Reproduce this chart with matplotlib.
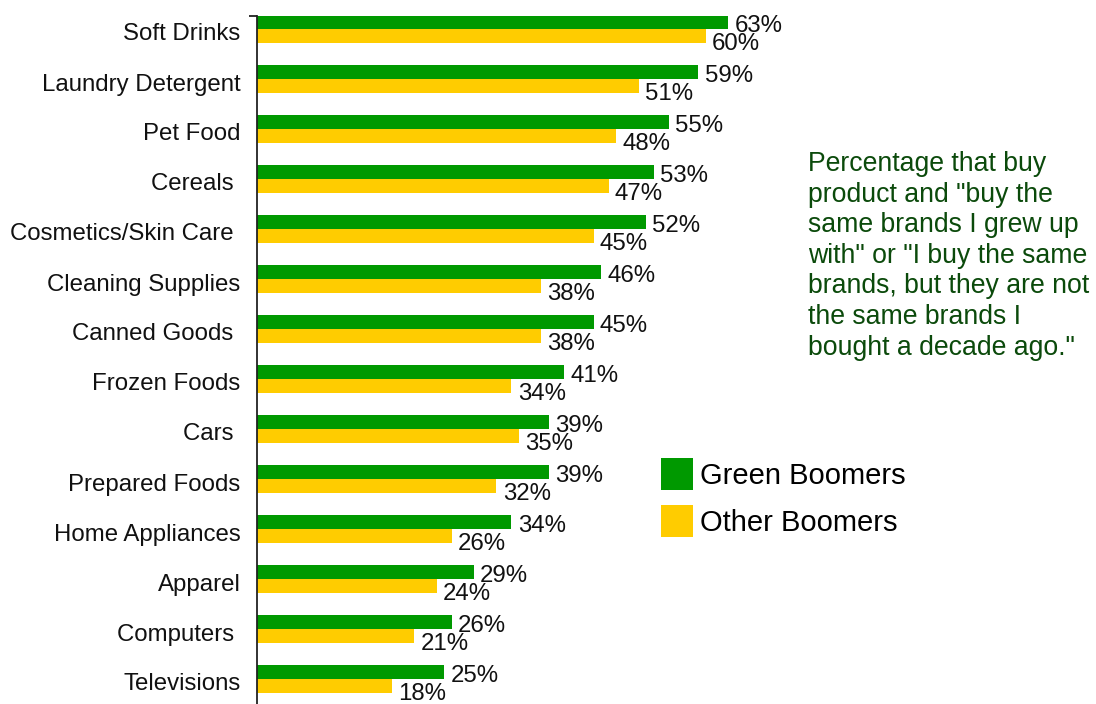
import matplotlib.pyplot as plt
import matplotlib.transforms as mtransforms
from matplotlib.patches import Patch
import numpy as np

plt.rcParams['font.family'] = ['Liberation Sans', 'DejaVu Sans']

categories = ['Soft Drinks', 'Laundry Detergent', 'Pet Food', 'Cereals ',
              'Cosmetics/Skin Care ', 'Cleaning Supplies', 'Canned Goods ',
              'Frozen Foods', 'Cars ', 'Prepared Foods', 'Home Appliances',
              'Apparel', 'Computers ', 'Televisions']
green_boomers = [63, 59, 55, 53, 52, 46, 45, 41, 39, 39, 34, 29, 26, 25]
other_boomers = [60, 51, 48, 47, 45, 38, 38, 34, 35, 32, 26, 24, 21, 18]
series_names = ['Green Boomers', 'Other Boomers']
note = ('Percentage that buy\nproduct and "buy the\nsame brands I grew up\n'
        'with" or "I buy the same\nbrands, but they are not\n'
        'the same brands I\nbought a decade ago."')

GREEN = '#009900'
YELLOW = '#ffcc00'
W, H = 1096, 704

fig = plt.figure(figsize=(W / 100, H / 100), dpi=100)
ax = fig.add_axes([257 / W, 0, 838 / W, (H - 16) / H])

y = np.arange(len(categories))
bh = 0.28
ax.barh(y - bh / 2, green_boomers, height=bh, color=GREEN)
ax.barh(y + bh / 2, other_boomers, height=bh, color=YELLOW)

# value labels: green just above the group middle, yellow below the yellow bar
for i, (g, o) in enumerate(zip(green_boomers, other_boomers)):
    ax.annotate(f'{g}%', xy=(g, i - 0.07), xytext=(4.5, 0), textcoords='offset points',
                va='center', ha='left', fontsize=17.3, color='#111111')
    ax.annotate(f'{o}%', xy=(o, i + 0.31), xytext=(4.5, 0), textcoords='offset points',
                va='center', ha='left', fontsize=17.3, color='#111111')

ax.set_xlim(0, 112)
ax.set_ylim(13.5, -0.26)
ax.set_yticks(y)
ax.set_yticklabels(categories, fontsize=17.3, color='#111111')
ax.tick_params(axis='y', which='major', length=0, pad=12)
shift = mtransforms.ScaledTranslation(0, -3 / 100, fig.dpi_scale_trans)
for lbl in ax.get_yticklabels():
    lbl.set_transform(lbl.get_transform() + shift)
ax.set_yticks([-0.26], minor=True)
ax.tick_params(axis='y', which='minor', length=6, width=1.3, color='#222222')
ax.set_xticks([])
for s in ['top', 'right', 'bottom']:
    ax.spines[s].set_visible(False)
ax.spines['left'].set_color('#222222')
ax.spines['left'].set_linewidth(1.3)

fig.text(808 / W, 1 - 151 / H, note, ha='left', va='top', fontsize=19.2,
         color='#0b4a0b', linespacing=1.23)

handles = [Patch(facecolor=GREEN), Patch(facecolor=YELLOW)]
fig.legend(handles, series_names, loc='upper left',
           bbox_to_anchor=(661 / W, 1 - 458 / H), bbox_transform=fig.transFigure,
           frameon=False, fontsize=21, handlelength=1.1, handleheight=1.32,
           handletextpad=0.25, labelspacing=0.5, borderpad=0, borderaxespad=0)

fig.savefig('out.png', dpi=100)
